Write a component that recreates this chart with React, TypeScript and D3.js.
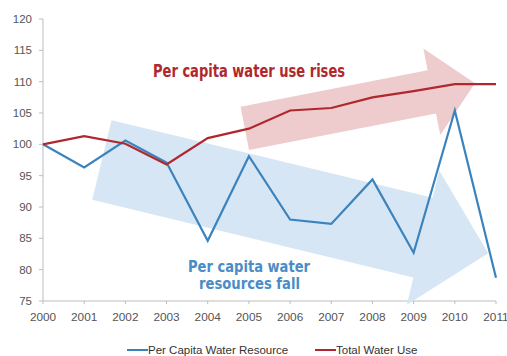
import React from "react";
import * as d3 from "d3";

const years = [2000, 2001, 2002, 2003, 2004, 2005, 2006, 2007, 2008, 2009, 2010, 2011];
const perCapitaResource = [100, 96.3, 100.6, 97.1, 84.6, 98.1, 88.0, 87.3, 94.4, 82.7, 105.4, 78.7];
const totalWaterUse = [100, 101.3, 100.1, 96.8, 101.0, 102.5, 105.4, 105.8, 107.5, 108.5, 109.6, 109.6];
const yTicks = [75, 80, 85, 90, 95, 100, 105, 110, 115, 120];
const seriesNames = ["Per Capita Water Resource", "Total Water Use"];
// arrow annotations in data units: [startYear, startValue, tipYear, tipValue]
const riseArrow = [2004.9, 102.55, 2010.49, 109.73];
const fallArrow = [2001.43, 97.5, 2010.81, 82.6];

const W = 507;
const H = 356;
const BLUE = "#3b83bd";
const RED = "#b0272d";

function arrowPath(x0: number, y0: number, x1: number, y1: number, bw: number, hw: number, hl: number) {
  const L = Math.hypot(x1 - x0, y1 - y0);
  const pts: [number, number][] = [
    [0, -bw], [L - hl, -bw], [L - hl, -hw], [L, 0], [L - hl, hw], [L - hl, bw], [0, bw],
  ];
  const a = Math.atan2(y1 - y0, x1 - x0);
  const c = Math.cos(a), s = Math.sin(a);
  return "M" + pts.map(([px, py]) => `${x0 + px * c - py * s},${y0 + px * s + py * c}`).join("L") + "Z";
}

export default function App() {
  const x = d3.scaleLinear().domain([2000, 2011]).range([43, 496]);
  const y = d3.scaleLinear().domain([75, 120]).range([301, 19]);
  const line = d3.line<number>().x((_, i) => x(years[i])).y((d) => y(d));
  const tickFont = "'Liberation Sans', Arial, sans-serif";
  const condFont = "'Liberation Sans Narrow', 'DejaVu Sans Condensed', 'Arial Narrow', sans-serif";

  return (
    <svg width={W} height={H} style={{ position: "absolute", left: 0, top: 0, background: "#fff" }}>
      {/* axes */}
      <line x1={x(2000)} x2={x(2000)} y1={y(120)} y2={y(75)} stroke="#bdbdbd" strokeWidth={1} />
      <line x1={x(2000)} x2={x(2011)} y1={y(75)} y2={y(75)} stroke="#bdbdbd" strokeWidth={1} />
      {yTicks.map((t) => (
        <g key={t}>
          <line x1={x(2000) - 4} x2={x(2000)} y1={y(t)} y2={y(t)} stroke="#bdbdbd" />
          <text x={32} y={y(t)} dy="0.35em" textAnchor="end" fontSize={11.5} fill="#555" fontFamily={tickFont}>
            {t}
          </text>
        </g>
      ))}
      {years.map((yr) => (
        <g key={yr}>
          <line x1={x(yr)} x2={x(yr)} y1={y(75)} y2={y(75) + 3} stroke="#bdbdbd" />
          <text x={x(yr)} y={321} textAnchor="middle" fontSize={11.8} fill="#555" fontFamily={tickFont}>
            {yr}
          </text>
        </g>
      ))}

      {/* arrows */}
      <path
        d={arrowPath(x(fallArrow[0]), y(fallArrow[1]), x(fallArrow[2]), y(fallArrow[3]), 41, 69, 67)}
        fill="#d6e6f4"
      />
      <path
        d={arrowPath(x(riseArrow[0]), y(riseArrow[1]), x(riseArrow[2]), y(riseArrow[3]), 22, 44, 44)}
        fill="#eecbcc"
      />

      {/* lines */}
      <path d={line(perCapitaResource) || ""} fill="none" stroke={BLUE} strokeWidth={2.2} strokeLinejoin="miter" />
      <path d={line(totalWaterUse) || ""} fill="none" stroke={RED} strokeWidth={2.2} strokeLinejoin="miter" />

      {/* annotations */}
      <text x={153} y={77} fontSize={17.5} fontWeight="bold" fill={RED} fontFamily={condFont}
        textLength={192} lengthAdjust="spacingAndGlyphs">
        Per capita water use rises
      </text>
      <text x={188} y={272} fontSize={15} fontWeight="bold" fill="#4a8cc6" fontFamily={condFont}
        textLength={122} lengthAdjust="spacingAndGlyphs">
        Per capita water
      </text>
      <text x={199} y={289} fontSize={15} fontWeight="bold" fill="#4a8cc6" fontFamily={condFont}
        textLength={101} lengthAdjust="spacingAndGlyphs">
        resources fall
      </text>

      {/* legend */}
      <line x1={127} x2={148} y1={350} y2={350} stroke={BLUE} strokeWidth={2} />
      <text x={148} y={354} fontSize={11.5} fill="#333" fontFamily={tickFont}>{seriesNames[0]}</text>
      <line x1={315} x2={336} y1={350} y2={350} stroke={RED} strokeWidth={2} />
      <text x={336} y={354} fontSize={11.5} fill="#333" fontFamily={tickFont}>{seriesNames[1]}</text>
    </svg>
  );
}
